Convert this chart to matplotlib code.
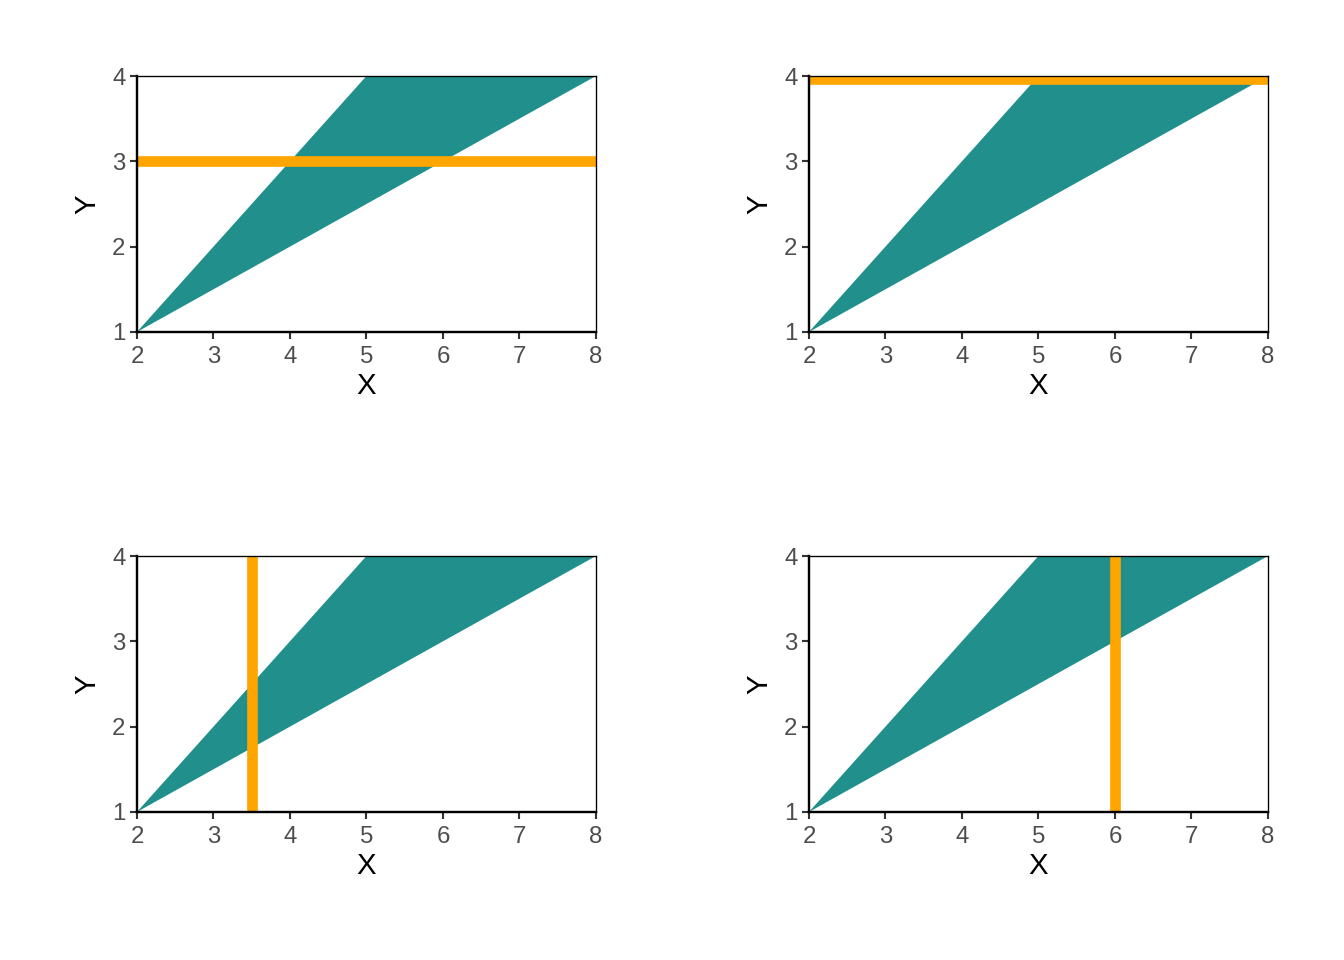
import matplotlib
matplotlib.use("Agg")
import matplotlib.pyplot as plt

plt.rcParams['font.family'] = ['Liberation Sans', 'DejaVu Sans']

# region shaded in every panel
poly_x = [2, 5, 8]
poly_y = [1, 4, 4]

# orange reference line per panel: (kind, value)
ref_lines = [('h', 3.0), ('h', 3.96), ('v', 3.5), ('v', 6.0)]

x_ticks = [2, 3, 4, 5, 6, 7, 8]
y_ticks = [1, 2, 3, 4]

teal = '#21908C'
orange = '#FFA500'
grey = '#4D4D4D'

fig = plt.figure(figsize=(7, 5), dpi=192)

lefts = [0.1019, 0.6019]
bottoms = [0.6542, 0.1542]
w = 0.3415
h = 0.2666

for i, (kind, val) in enumerate(ref_lines):
    ax = fig.add_axes([lefts[i % 2], bottoms[i // 2], w, h])
    ax.fill(poly_x, poly_y, color=teal, lw=0)
    if kind == 'h':
        ax.axhline(val, color=orange, lw=4.0)
    else:
        ax.axvline(val, color=orange, lw=4.0)
    ax.set_xlim(2, 8)
    ax.set_ylim(1, 4)
    ax.set_xticks(x_ticks)
    ax.set_yticks(y_ticks)
    ax.tick_params(length=2.75, width=0.8, color='#333333', labelcolor=grey,
                   labelsize=9)
    ax.tick_params(axis='x', pad=2.5)
    ax.tick_params(axis='y', pad=1.5)
    for s in ['left', 'bottom']:
        ax.spines[s].set_linewidth(0.9)
        ax.spines[s].set_color('black')
    for s in ['top', 'right']:
        ax.spines[s].set_linewidth(0.5)
        ax.spines[s].set_color('black')
    ax.set_xlabel('X', fontsize=11, labelpad=1.5)
    ax.set_ylabel('Y', fontsize=11, labelpad=4)

fig.savefig('out.png', dpi=192)
